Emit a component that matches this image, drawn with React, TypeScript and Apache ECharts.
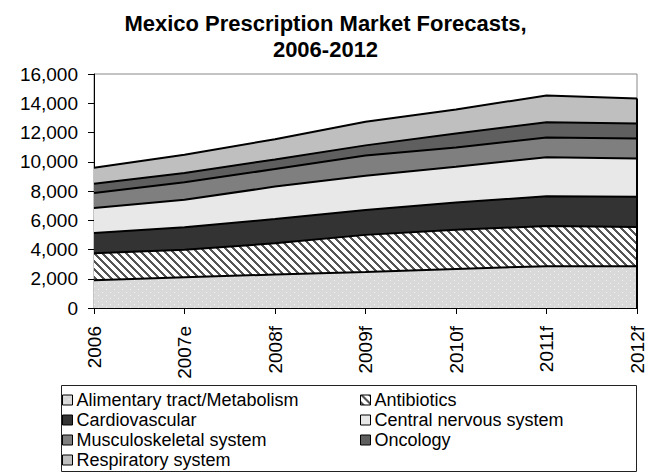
import { useEffect, useRef } from 'react';
import * as echarts from 'echarts';

// Categories and stacked series values (US$ m)
const years = ['2006', '2007e', '2008f', '2009f', '2010f', '2011f', '2012f'];
const yMin = 0;
const yMax = 16000;
const yInterval = 2000;

const alimentary = [1900, 2100, 2290, 2460, 2670, 2860, 2850];
const antibiotics = [1850, 1880, 2135, 2540, 2680, 2740, 2690];
const cardiovascular = [1370, 1540, 1655, 1700, 1860, 2040, 2065];
const centralNervous = [1710, 1880, 2220, 2350, 2450, 2670, 2615];
const musculoskeletal = [1030, 1200, 1200, 1370, 1320, 1340, 1370];
const oncology = [630, 630, 660, 700, 950, 1050, 1025];
const respiratory = [1100, 1250, 1380, 1620, 1650, 1830, 1710];

const FONT = '"Liberation Sans", Arial, sans-serif';

function dotPattern() {
  const c = document.createElement('canvas');
  c.width = 8;
  c.height = 6;
  const ctx = c.getContext('2d')!;
  ctx.fillStyle = '#d9d9d9';
  ctx.fillRect(0, 0, 8, 6);
  ctx.fillStyle = '#f2f2f2';
  ctx.fillRect(2, 1, 1, 1);
  ctx.fillRect(6, 4, 1, 1);
  return { image: c, repeat: 'repeat', imageWidth: 8, imageHeight: 6 };
}

function hatchPattern() {
  const c = document.createElement('canvas');
  c.width = 8;
  c.height = 8;
  const ctx = c.getContext('2d')!;
  ctx.fillStyle = '#ffffff';
  ctx.fillRect(0, 0, 8, 8);
  ctx.fillStyle = '#555555';
  for (let y = 0; y < 8; y++) {
    for (let k = 0; k < 3; k++) ctx.fillRect((y + k) % 8, y, 1, 1);
  }
  return { image: c, repeat: 'repeat', imageWidth: 8, imageHeight: 8 };
}

export default function App() {
  const ref = useRef<HTMLDivElement>(null);

  useEffect(() => {
    document.body.style.margin = '0';
    if (!ref.current) return;
    const chart = echarts.init(ref.current, null, { renderer: 'svg' });

    const layers = [
      { name: 'Alimentary tract/Metabolism', data: alimentary, fill: dotPattern() },
      { name: 'Antibiotics', data: antibiotics, fill: hatchPattern() },
      { name: 'Cardiovascular', data: cardiovascular, fill: '#333333' },
      { name: 'Central nervous system', data: centralNervous, fill: '#e8e8e8' },
      { name: 'Musculoskeletal system', data: musculoskeletal, fill: '#7f7f7f' },
      { name: 'Oncology', data: oncology, fill: '#5f5f5f' },
      { name: 'Respiratory system', data: respiratory, fill: '#bfbfbf' },
    ];

    const lastIdx = years.length - 1;
    const lastTotal = layers.reduce((s, l) => s + l.data[lastIdx], 0);

    const legendItem = (name: string) => {
      const l = layers.find((x) => x.name === name)!;
      return {
        name,
        itemStyle: { color: l.fill as any, borderColor: '#000', borderWidth: 1 },
      };
    };

    const legendBase = {
      orient: 'vertical',
      top: 390,
      padding: 0,
      itemGap: 0,
      itemWidth: 10,
      itemHeight: 10,
      icon: 'rect',
      selectedMode: false,
      textStyle: { fontFamily: FONT, fontSize: 18, lineHeight: 20, color: '#000', padding: [0, 0, 0, -1] },
    };

    chart.setOption({
      animation: false,
      backgroundColor: '#fff',
      title: {
        text: 'Mexico Prescription Market Forecasts,\n2006-2012',
        left: 'center',
        top: 5,
        textStyle: { fontFamily: FONT, fontSize: 22, fontWeight: 'bold', color: '#000', lineHeight: 26 },
      },
      grid: {
        left: 94,
        right: 14,
        top: 74,
        bottom: 167,
        show: true,
        borderColor: '#888',
        borderWidth: 1,
      },
      xAxis: {
        type: 'category',
        data: years,
        boundaryGap: false,
        axisLine: { lineStyle: { color: '#000', width: 1 } },
        axisTick: { show: true, length: 6, lineStyle: { color: '#000' } },
        axisLabel: { rotate: 90, fontFamily: FONT, fontSize: 19, color: '#000', margin: 18 },
        splitLine: { show: false },
      },
      yAxis: {
        type: 'value',
        min: yMin,
        max: yMax,
        interval: yInterval,
        axisLine: { show: true, lineStyle: { color: '#000', width: 1 } },
        axisTick: { show: true, length: 6, lineStyle: { color: '#000' } },
        axisLabel: {
          fontFamily: FONT,
          fontSize: 19,
          color: '#000',
          margin: 16,
          formatter: (v: number) => v.toLocaleString('en-US'),
        },
        splitLine: { show: false },
      },
      legend: [
        {
          ...legendBase,
          left: 62,
          data: ['Alimentary tract/Metabolism', 'Cardiovascular', 'Musculoskeletal system', 'Respiratory system'].map(legendItem),
        },
        {
          ...legendBase,
          left: 360,
          data: ['Antibiotics', 'Central nervous system', 'Oncology'].map(legendItem),
        },
      ],
      graphic: [
        {
          type: 'rect',
          shape: { x: 61.5, y: 385.5, width: 575, height: 86 },
          style: { fill: 'none', stroke: '#222', lineWidth: 1 },
          z: -1,
        },
      ],
      series: layers.map((l, i) => ({
        name: l.name,
        type: 'line',
        stack: 'total',
        data: l.data,
        symbol: 'none',
        color: l.fill as any,
        lineStyle: { color: '#000', width: 2 },
        areaStyle: { color: l.fill as any, opacity: 1 },
        z: 2,
        ...(i === layers.length - 1
          ? {
              markLine: {
                silent: true,
                symbol: 'none',
                label: { show: false },
                lineStyle: { color: '#000', width: 2, type: 'solid' },
                data: [[{ coord: [years[lastIdx], 0] }, { coord: [years[lastIdx], lastTotal] }]],
              },
            }
          : {}),
      })),
    });

    return () => chart.dispose();
  }, []);

  return <div ref={ref} style={{ width: 651, height: 475 }} />;
}
